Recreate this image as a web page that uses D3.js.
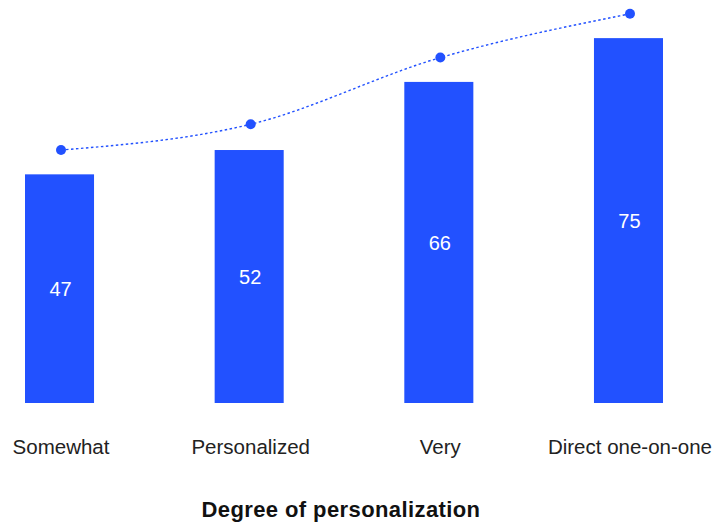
<!DOCTYPE html>
<html>
<head>
<meta charset="utf-8">
<script src="https://cdn.jsdelivr.net/npm/d3@7"></script>
<style>
  html, body { margin: 0; padding: 0; background: #fff; }
  svg { display: block; font-family: "Liberation Sans", Arial, sans-serif; }
</style>
</head>
<body>
<svg id="chart" width="714" height="525"></svg>
<script>
// Share of respondents by degree of personalization
const categories = ["Somewhat", "Personalized", "Very", "Direct one-on-one"];
const barValues = [47, 52, 66, 75];
const trendValues = [52, 57.3, 71, 80];
const axisTitle = "Degree of personalization";

const blue = "#2251FF";
const svg = d3.select("#chart");

const x = d3.scaleBand()
  .domain(categories)
  .range([25, 663])
  .paddingInner(0.636)
  .paddingOuter(0);

const y = d3.scaleLinear()
  .domain([0, 80])
  .range([403, 13.8]);

// bars
svg.append("g")
  .selectAll("rect")
  .data(barValues)
  .join("rect")
  .attr("x", (d, i) => x(categories[i]))
  .attr("y", d => y(d))
  .attr("width", x.bandwidth())
  .attr("height", d => y(0) - y(d))
  .attr("fill", blue);

// value labels inside bars
svg.append("g")
  .selectAll("text")
  .data(barValues)
  .join("text")
  .attr("x", (d, i) => x(categories[i]) + x.bandwidth() / 2 + 1)
  .attr("y", d => (y(d) + y(0)) / 2)
  .attr("dy", "0.37em")
  .attr("text-anchor", "middle")
  .attr("fill", "#fff")
  .attr("font-size", 20)
  .text(d => d);

// dotted trend curve with markers
const cx = (d, i) => x(categories[i]) + x.bandwidth() / 2 + 1.5;
const line = d3.line()
  .x(cx)
  .y(d => y(d))
  .curve(d3.curveMonotoneX);

svg.append("path")
  .datum(trendValues)
  .attr("d", line)
  .attr("fill", "none")
  .attr("stroke", blue)
  .attr("stroke-width", 1.4)
  .attr("stroke-dasharray", "2.5,2.5");

svg.append("g")
  .selectAll("circle")
  .data(trendValues)
  .join("circle")
  .attr("cx", cx)
  .attr("cy", d => y(d))
  .attr("r", 5)
  .attr("fill", blue);

// category axis (labels only)
const xAxis = d3.axisBottom(x).tickSize(0).tickPadding(0);
const gx = svg.append("g")
  .attr("transform", "translate(1.5,438)")
  .call(xAxis);
gx.select(".domain").remove();
gx.selectAll("text")
  .attr("font-size", 20.5)
  .attr("font-family", "'Liberation Sans', Arial, sans-serif")
  .attr("fill", "#222")
  .attr("dy", "0.78em");

svg.append("text")
  .attr("x", 341)
  .attr("y", 517)
  .attr("text-anchor", "middle")
  .attr("font-size", 22)
  .attr("letter-spacing", 0.4)
  .attr("font-weight", "bold")
  .attr("fill", "#111")
  .text(axisTitle);
</script>
</body>
</html>
